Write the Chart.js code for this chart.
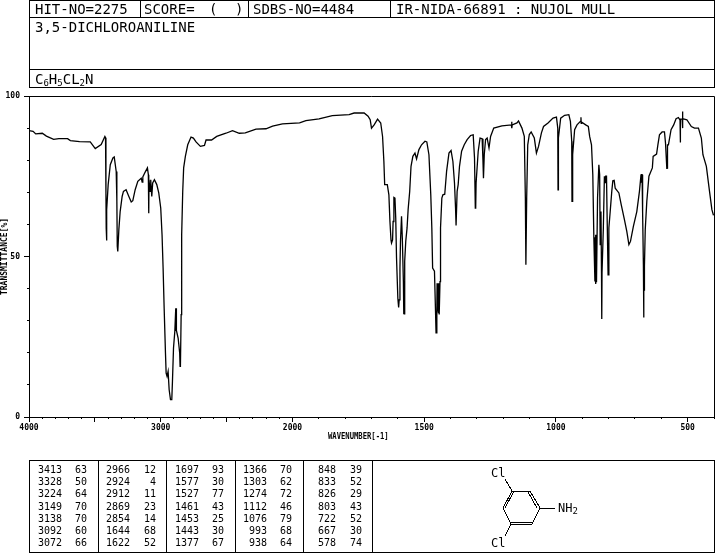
<!DOCTYPE html>
<html>
<head>
<meta charset="utf-8">
<title>3,5-DICHLOROANILINE</title>
<script src="https://cdn.jsdelivr.net/npm/chart.js@4"></script>
<style>
    html, body { margin: 0; padding: 0; background: #fff; overflow: hidden; }
    #pagina { position: relative; width: 715px; height: 553px; }
    #grafico { position: absolute; left: 0; top: 0; }
    .linha { position: absolute; background: #000; }
    .txt { position: absolute; color: #000; font-family: "DejaVu Sans Mono", monospace; white-space: pre; }
    .cab { font-size: 14px; line-height: 16px; }
    .cab sub { font-size: 9px; line-height: 0; vertical-align: -2px; }
    .num { font-size: 10px; line-height: 12px; text-align: right; }
    .mol { font-size: 12px; line-height: 14px; }
    .mol sub { font-size: 9px; line-height: 0; vertical-align: -2px; }
    #molecula { position: absolute; left: 0; top: 0; }
</style>
</head>
<body>
<div id="pagina">
    <canvas id="grafico" width="715" height="553"></canvas>
    <svg id="molecula" width="715" height="553" shape-rendering="crispEdges" stroke="#000" stroke-width="1">
        <line x1="512" y1="491" x2="530" y2="491"/>
        <line x1="530" y1="491" x2="540" y2="508"/>
        <line x1="528" y1="492" x2="537" y2="508"/>
        <line x1="540" y1="508" x2="532" y2="524"/>
        <line x1="532" y1="524" x2="511" y2="524"/>
        <line x1="532" y1="522" x2="511" y2="522"/>
        <line x1="511" y1="524" x2="503" y2="508"/>
        <line x1="503" y1="508" x2="512" y2="491"/>
        <line x1="505" y1="508" x2="514" y2="491"/>
        <line x1="512" y1="491" x2="505" y2="479"/>
        <line x1="511" y1="524" x2="505" y2="536"/>
        <line x1="540" y1="508" x2="555" y2="508"/>
    </svg>
</div>

<script>
// espectro (numero de onda, transmitancia)
var wavenumbers = [4000, 3969, 3949, 3899, 3868, 3813, 3773, 3707, 3686, 3616, 3535, 3497, 3452, 3424, 3419, 3416, 3414, 3412, 3410, 3409, 3399,
    3383, 3363, 3353, 3338, 3333, 3330, 3326, 3318, 3308, 3293, 3283, 3263, 3242, 3224, 3212, 3194, 3174, 3148, 3141, 3136, 3118, 3101, 3094, 3091, 3089,
    3083, 3081, 3076, 3068, 3061, 3048, 3030, 3015, 3000, 2990, 2982, 2974, 2964, 2959, 2952, 2944, 2936, 2926, 2916, 2911, 2903, 2893, 2886, 2884, 2882, 2880,
    2868, 2856, 2853, 2851, 2850, 2845, 2841, 2833, 2826, 2813, 2795, 2770, 2752, 2732, 2699, 2668, 2656, 2614, 2575, 2505, 2455, 2404, 2358, 2277, 2201, 2151, 2076,
    1973, 1949, 1899, 1849, 1785, 1766, 1728, 1713, 1705, 1700, 1690, 1677, 1665, 1658, 1653, 1650, 1640, 1634, 1630, 1626, 1624, 1620, 1618, 1615, 1611, 1608, 1605, 1600, 1597, 1595, 1592, 1590,
    1586, 1583, 1579, 1578, 1577, 1576, 1574, 1570, 1565, 1561, 1555, 1550, 1543, 1535, 1529, 1520, 1510, 1497, 1490, 1482, 1475, 1471, 1468, 1461, 1457, 1455, 1452, 1451, 1449, 1448, 1446, 1445, 1443, 1440, 1438,
    1433, 1429, 1422, 1415, 1406, 1398, 1391, 1385, 1381, 1379, 1375, 1371, 1366, 1358, 1348, 1337, 1324, 1314, 1309, 1306, 1305, 1304, 1303, 1301, 1295, 1288, 1280, 1277, 1275, 1272, 1267, 1261, 1254, 1248, 1236, 1205,
    1169, 1168, 1167, 1166, 1148, 1142, 1129, 1120, 1116, 1114, 1111, 1107, 1101, 1094, 1082, 1074, 1066, 1055, 1047, 1030, 1011, 998, 993, 992, 991, 990, 982, 967, 951, 945, 940, 939, 938, 937, 936, 929, 920, 907, 905, 904, 902,
    887, 877, 872, 865, 860, 856, 852, 851, 850, 849, 848, 847, 846, 842, 837, 834, 832, 829, 827, 826, 825, 820, 816, 815, 814, 812, 811, 808, 806, 802, 799, 794, 788, 784, 779, 775, 761, 752, 740, 731, 723, 717, 706, 693, 683,
    677, 676, 675, 673, 671, 668, 667, 666, 665, 664, 661, 655, 647, 634, 631, 618, 613, 607, 597, 588, 584, 579, 578, 577, 576, 573, 563, 553, 544, 535, 529, 528, 527, 521, 520, 519, 518, 516, 503, 486, 474, 459, 448, 442, 429, 417, 408, 402];
var transmittance = [89.2, 89, 88.2, 88.4, 87.5, 86.5, 86.7, 86.7, 86.1, 85.8, 85.7, 83.6, 84.9, 87.4, 87, 70, 58.9, 64, 55, 64.6, 72.4,
    78.6, 80.7, 81, 76.5, 67.2, 53.2, 51.6, 58.3, 64, 68.7, 70.3, 70.8, 68.7, 67, 67.4, 70.8, 73.4, 74.4, 73.2, 74.8, 76.3, 77.6, 75.5, 63.5, 73.9,
    73.9, 70.3, 73.9, 68.7, 72.9, 73.9, 72.4, 69.8, 65.1, 56.8, 46.4, 33.9, 19.9, 13.7, 12.7, 14.2, 8.5, 5.4, 5.4, 11.1, 21.5, 26.7, 33.9, 27, 33.9, 27,
    24.6, 19.9, 15.8, 20, 15.8, 31.9, 56.8, 70.3, 77.6, 81.2, 84.8, 87.2, 86.9, 85.7, 84.3, 84.6, 86.3, 86.3, 87.4, 88.4, 89.2, 88.4, 88.5, 89.7, 89.8, 90.6, 91.3,
    91.6, 92.3, 92.9, 93.9, 94.2, 94.7, 94.7, 93.7, 92.6, 90, 91, 92.8, 91.6, 87.4, 79.6, 72.4, 72.4, 69.2, 60.9, 55.2, 54.2, 55.2, 60.9, 68.4, 68.2, 62, 49.5, 37, 34.1, 36.5, 46.4, 54.7,
    62.5, 55.7, 42.2, 32.1, 42, 32.1, 48.5, 54.7, 58.9, 64.6, 70.3, 78.1, 81.2, 82.2, 80.4, 83.3, 84.8, 85.9, 85.7, 81.7, 69.2, 58.9, 46.4, 45.4, 32.9, 26.2, 32.9, 41.7, 32.9, 41.7, 32.5, 41.7, 31.9, 42.2, 58.9,
    68.2, 69.2, 69.4, 76.5, 82.2, 83, 79.6, 72.9, 65.1, 59.7, 70.3, 72.4, 78.1, 82.8, 84.8, 86.4, 87.7, 87.9, 80.7, 65.1, 72.9, 65.1, 72.9, 72.9, 82.8, 86.9, 86.7, 80.1, 74.4, 81.7, 86.4, 86.9, 83.8, 87.4, 90, 90.7,
    91, 92, 90, 91, 91.6, 92.2, 90, 87.4, 68.2, 47.4, 68.2, 84.8, 88, 88.8, 86.9, 82.2, 84.3, 88.5, 90.5, 91.6, 93.1, 93.4, 90, 70.8, 86.9, 86.9, 93.1, 94, 94.2, 92.1, 85.9, 67, 80, 67, 81.7, 89.5, 91, 92.1, 93.4, 91.5, 91.8,
    91, 90.5, 87.4, 84.8, 75.5, 55.7, 42.2, 56, 41.4, 56.8, 42, 56.8, 42, 68.2, 78.6, 75.5, 53.7, 64, 44.9, 30.5, 44.9, 58.9, 75, 73, 75, 73, 75, 75, 64, 44.3, 58.9, 64, 70.3, 73.6, 73.7, 71.3, 69.8, 66.1, 61.5, 57.8, 53.7, 54.7, 59.4, 64, 70.3,
    75.5, 73, 75.5, 75.5, 64, 47.4, 31, 47.4, 39.5, 47, 58.3, 67.2, 75, 77.6, 81.2, 81.9, 84.8, 87.9, 88.8, 88.8, 85.3, 77.3, 80, 77.3, 84.8, 84.8, 89.5, 91, 92.9, 93.3, 92.5, 85.5, 92.8, 92.8, 95.2, 90, 92.9, 92.9, 92.6, 90.5, 90, 90, 86.9, 81.7, 78.1, 70.3, 64.6, 62.8];

// marcas dos eixos, em numero de onda
var xMajorTicks = [4000, 3500, 3000, 2500, 2000, 1500, 1000, 500];
var xMinorTicks = [3900, 3800, 3700, 3600, 3400, 3300, 3200, 3100, 2900, 2800, 2700, 2600, 2400, 2300, 2200, 2100,
    1900, 1800, 1700, 1600, 1400, 1300, 1200, 1100, 900, 800, 700, 600, 400];
var xLabels = [4000, 3000, 2000, 1500, 1000, 500];
var yMajorTicks = [0, 50, 100];
var yMinorTicks = [10, 20, 30, 40, 60, 70, 80, 90];

// tabela de picos
var picosOnda = [
    [3413, 3328, 3224, 3149, 3138, 3092, 3072],
    [2966, 2924, 2912, 2869, 2854, 1644, 1622],
    [1697, 1577, 1527, 1461, 1453, 1443, 1377],
    [1366, 1303, 1274, 1112, 1076, 993, 938],
    [848, 833, 826, 803, 722, 667, 578]
];
var picosValor = [
    [63, 50, 64, 70, 70, 60, 66],
    [12, 4, 11, 23, 14, 68, 52],
    [93, 30, 77, 43, 25, 30, 67],
    [70, 62, 72, 46, 79, 68, 64],
    [39, 52, 29, 43, 52, 30, 74]
];

// o eixo x muda de escala em 2000: abaixo disso cada numero de onda ocupa o dobro
function paraEixo(onda) {
    return onda >= 2000 ? (4000 - onda) / 2 : 3000 - onda;
}
function paraOnda(pos) {
    return pos <= 1000 ? 4000 - pos * 2 : 3000 - pos;
}

var pagina = document.getElementById("pagina");

function linha(x, y, w, h) {
    var d = document.createElement("div");
    d.className = "linha";
    d.style.cssText = `left:${x}px;top:${y}px;width:${w}px;height:${h}px`;
    pagina.appendChild(d);
}

function texto(html, x, y, classe, w) {
    var d = document.createElement("div");
    d.className = "txt " + classe;
    d.style.left = x + "px";
    d.style.top = y + "px";
    if (w) d.style.width = w + "px";
    d.innerHTML = html;
    pagina.appendChild(d);
    return d;
}

// cabecalho
linha(29, 0, 686, 1);
linha(29, 17, 686, 1);
linha(29, 69, 686, 1);
linha(29, 87, 686, 1);
linha(29, 0, 1, 88);
linha(714, 0, 1, 88);
linha(140, 0, 1, 17);
linha(248, 0, 1, 17);
linha(390, 0, 1, 17);
texto("HIT-NO=2275", 35, 1, "cab");
texto("SCORE=", 144, 1, "cab");
texto("(", 209, 1, "cab");
texto(")", 235, 1, "cab");
texto("SDBS-NO=4484", 253, 1, "cab");
texto("IR-NIDA-66891 : NUJOL MULL", 396, 1, "cab");
texto("3,5-DICHLOROANILINE", 35, 19, "cab");
texto("C<sub>6</sub>H<sub>5</sub>CL<sub>2</sub>N", 35, 71, "cab");

// tabela
linha(29, 460, 686, 1);
linha(29, 552, 686, 1);
linha(29, 460, 1, 93);
linha(714, 460, 1, 93);
var divisoes = [98, 166, 235, 303, 372];
for (var d = 0; d < divisoes.length; d++) {
    linha(divisoes[d], 460, 1, 93);
}
var fimOnda = [62, 130, 199, 267, 336];
var fimValor = [87, 156, 224, 292, 362];
for (var c = 0; c < picosOnda.length; c++) {
    for (var l = 0; l < picosOnda[c].length; l++) {
        var topo = Math.round(464 + l * 12.2);
        texto(String(picosOnda[c][l]), fimOnda[c] - 40, topo, "num", 40);
        texto(String(picosValor[c][l]), fimValor[c] - 30, topo, "num", 30);
    }
}

// molecula
texto("Cl", 491, 466, "mol");
texto("Cl", 491, 536, "mol");
texto("NH<sub>2</sub>", 558, 501, "mol");

var tituloX = texto("WAVENUMBER[-1]", 328, 432, "");
tituloX.style.cssText += ";font-size:8px;font-weight:bold;line-height:10px;transform:scaleX(0.9);transform-origin:left top";

var fonteEixo = { family: "'DejaVu Sans Mono', monospace", size: 8, weight: "bold" };

// contorno de cima e da direita
var moldura = {
    id: "moldura",
    afterDraw: function (chart) {
        var a = chart.chartArea;
        var ctx = chart.ctx;
        ctx.save();
        ctx.strokeStyle = "#000";
        ctx.lineWidth = 1;
        ctx.beginPath();
        ctx.moveTo(a.left, a.top + 0.5);
        ctx.lineTo(a.right + 0.5, a.top + 0.5);
        ctx.lineTo(a.right + 0.5, a.bottom);
        ctx.stroke();
        ctx.restore();
    }
};

function eixoX(marcas, tamanho, altura, peso, comRotulo) {
    return {
        type: "linear",
        position: "bottom",
        weight: peso,
        min: 0,
        max: 2600,
        grid: { drawOnChartArea: false, color: "#000", tickColor: "#000", tickLength: tamanho, lineWidth: 1 },
        border: { display: true, color: "#000", width: 1 },
        afterFit: function (scale) { scale.height = altura; },
        afterBuildTicks: function (scale) {
            scale.ticks = marcas.map(function (onda) { return { value: paraEixo(onda) }; });
        },
        ticks: {
            display: comRotulo,
            color: "#000",
            font: fonteEixo,
            padding: 1,
            maxRotation: 0,
            autoSkip: false,
            callback: function (valor) {
                var onda = paraOnda(valor);
                return xLabels.indexOf(onda) >= 0 ? String(onda) : "";
            }
        }
    };
}

function eixoY(marcas, tamanho, largura, peso, comRotulo) {
    return {
        type: "linear",
        position: "left",
        weight: peso,
        min: 0,
        max: 100,
        grid: { drawOnChartArea: false, color: "#000", tickColor: "#000", tickLength: tamanho, lineWidth: 1 },
        border: { display: true, color: "#000", width: 1 },
        afterFit: function (scale) { scale.width = largura; },
        afterBuildTicks: function (scale) {
            scale.ticks = marcas.map(function (v) { return { value: v }; });
        },
        title: {
            display: comRotulo,
            text: "TRANSMITTANCE[%]",
            color: "#000",
            font: fonteEixo,
            padding: { top: 0, bottom: 0 }
        },
        ticks: { display: comRotulo, color: "#000", font: fonteEixo, padding: 4, autoSkip: false }
    };
}

var pontos = wavenumbers.map(function (onda, i) {
    return { x: paraEixo(onda), y: transmittance[i] };
});

new Chart(document.getElementById("grafico"), {
    type: "line",
    data: {
        datasets: [{
            label: "3,5-DICHLOROANILINE",
            data: pontos,
            xAxisID: "x",
            yAxisID: "y",
            borderColor: "#000",
            borderWidth: 1.3,
            pointRadius: 0,
            tension: 0,
            fill: false
        }]
    },
    options: {
        responsive: false,
        animation: false,
        devicePixelRatio: 1,
        layout: { padding: { top: 96, left: 0, right: 1, bottom: 116 } },
        plugins: { legend: { display: false }, tooltip: { enabled: false } },
        scales: {
            x: eixoX(xMajorTicks, 5, 20, 1, true),
            xMinor: Object.assign(eixoX(xMinorTicks, 2, 0, 0, false), { axis: "x" }),
            y: eixoY(yMajorTicks, 5, 29, 1, true),
            yMinor: Object.assign(eixoY(yMinorTicks, 2, 0, 0, false), { axis: "y" })
        }
    },
    plugins: [moldura]
});
</script>
</body>
</html>
